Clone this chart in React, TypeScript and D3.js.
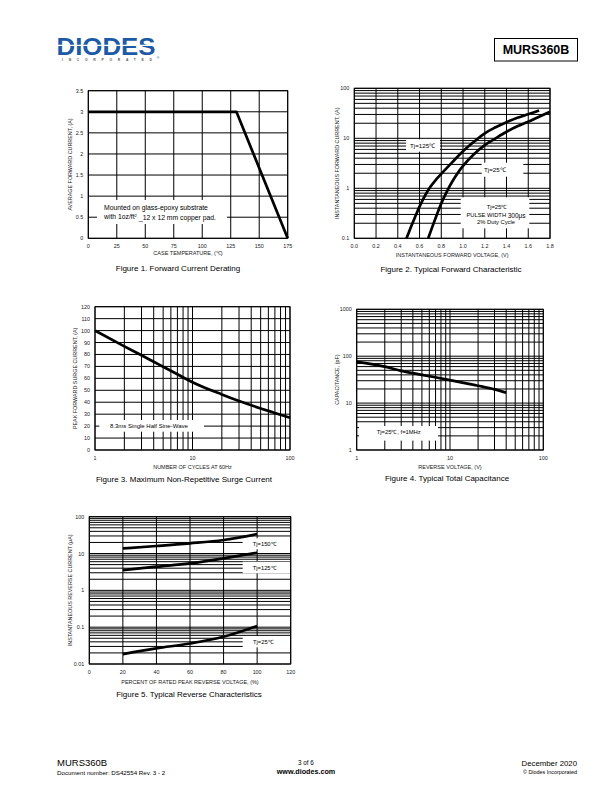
import React from "react";
import * as d3 from "d3";

const FONT = "'Liberation Sans', Arial, Helvetica, sans-serif";

// ---------------- data ----------------
// Figure 1 – Forward current derating
const fig1Temp = [0, 130, 175];
const fig1Current = [3, 3, 0];
const fig1XTicks = [0, 25, 50, 75, 100, 125, 150, 175];
const fig1YTicks = [0, 0.5, 1, 1.5, 2, 2.5, 3, 3.5];

// Figure 2 – Typical forward characteristic
const fig2V125 = [0.48, 0.52, 0.56, 0.6, 0.65, 0.7, 0.75, 0.8, 0.9, 1.0, 1.1, 1.2, 1.3, 1.4, 1.5, 1.6, 1.7];
const fig2I125 = [0.1, 0.166, 0.27, 0.43, 0.71, 1.07, 1.48, 1.95, 3.3, 5.5, 8.5, 12.6, 16.6, 21, 25.7, 30.2, 36];
const fig2V25 = [0.68, 0.72, 0.76, 0.8, 0.85, 0.9, 0.95, 1.0, 1.1, 1.2, 1.3, 1.4, 1.5, 1.6, 1.7, 1.8];
const fig2I25 = [0.1, 0.175, 0.3, 0.5, 0.85, 1.35, 2.0, 2.8, 4.8, 7.3, 10, 13.5, 17.4, 21.4, 27, 34];
const fig2XTicks = [0, 0.2, 0.4, 0.6, 0.8, 1.0, 1.2, 1.4, 1.6, 1.8];
const fig2YTicks = [0.1, 1, 10, 100];

// Figure 3 – Max non-repetitive surge current
const fig3Cycles = [1, 2, 3, 4, 5, 7, 10, 20, 30, 50, 70, 100];
const fig3Current = [100, 86.8, 79.3, 73.9, 69.7, 63.4, 56.8, 46.5, 41, 34.8, 31, 27];
const fig3XTicks = [1, 10, 100];
const fig3YTicks = [0, 10, 20, 30, 40, 50, 60, 70, 80, 90, 100, 110, 120];

// Figure 4 – Typical total capacitance
const fig4Voltage = [1, 2, 3, 5, 10, 20, 30, 40];
const fig4Cap = [76, 60, 48.5, 40, 31, 23.5, 19.6, 16.7];
const fig4XTicks = [1, 10, 100];
const fig4YTicks = [1, 10, 100, 1000];

// Figure 5 – Typical reverse characteristics
const fig5Pct = [20, 40, 60, 80, 100];
const fig5I150 = [13.8, 16, 18.9, 23.3, 33.8];
const fig5I125 = [3.56, 4.4, 5.4, 7.4, 10.5];
const fig5I25 = [0.0186, 0.0266, 0.036, 0.055, 0.108];
const fig5XTicks = [0, 20, 40, 60, 80, 100, 120];
const fig5YTicks = [0.01, 0.1, 1, 10, 100];

// ---------------- helpers ----------------
function logGrid(lo: number, hi: number): number[] {
  const out: number[] = [];
  for (let d = lo; d < hi * 0.999; d *= 10) {
    for (let m = 1; m < 10; m++) out.push(d * m);
  }
  out.push(hi);
  return out;
}

type Series = { xs: number[]; ys: number[]; smooth?: boolean };
type Box = { x: number; y: number; w: number; h: number };
type Txt = { x: number; y: number; text: React.ReactNode; size?: number; anchor?: string };

type PanelProps = {
  xs: any;
  ys: any;
  xGrid: number[];
  yGrid: number[];
  xTicks: number[];
  yTicks: number[];
  xFmt: (v: number) => string;
  yFmt: (v: number) => string;
  series: Series[];
  boxes: Box[];
  texts: Txt[];
  xTitle: string;
  yTitle: string;
  yTitleX: number;
  xTitleY: number;
  caption: string;
  captionY: number;
  captionX: number;
};

function Panel(p: PanelProps) {
  const [x0, x1] = p.xs.range();
  const [yb, yt] = p.ys.range();
  const midX = (x0 + x1) / 2;
  const midY = (yb + yt) / 2;
  return (
    <g>
      {p.xGrid.map((v, i) => (
        <line key={"gx" + i} x1={p.xs(v)} x2={p.xs(v)} y1={yt} y2={yb} stroke="#000" strokeWidth={1} />
      ))}
      {p.yGrid.map((v, i) => (
        <line key={"gy" + i} x1={x0} x2={x1} y1={p.ys(v)} y2={p.ys(v)} stroke="#000" strokeWidth={1} />
      ))}
      <rect x={x0} y={yt} width={x1 - x0} height={yb - yt} fill="none" stroke="#000" strokeWidth={1} />
      {p.boxes.map((b, i) => (
        <rect key={"b" + i} x={b.x} y={b.y} width={b.w} height={b.h} fill="#fff" />
      ))}
      {p.series.map((s, i) => {
        const line = d3
          .line<number>()
          .x((_, j) => p.xs(s.xs[j]))
          .y((d) => p.ys(d))
          .curve(s.smooth ? d3.curveMonotoneX : d3.curveLinear);
        return (
          <path key={"s" + i} d={line(s.ys) || ""} fill="none" stroke="#000" strokeWidth={2.7} strokeLinejoin="round" />
        );
      })}
      {p.texts.map((t, i) => (
        <text key={"t" + i} x={t.x} y={t.y} fontSize={t.size || 5.5} textAnchor={(t.anchor as any) || "start"} dominantBaseline="central" fill="#000">
          {t.text}
        </text>
      ))}
      {p.xTicks.map((v, i) => (
        <text key={"xt" + i} x={p.xs(v)} y={yb + 8} fontSize={5.4} textAnchor="middle" dominantBaseline="central" fill="#222">
          {p.xFmt(v)}
        </text>
      ))}
      {p.yTicks.map((v, i) => (
        <text key={"yt" + i} x={x0 - 5} y={p.ys(v)} fontSize={5.4} textAnchor="end" dominantBaseline="central" fill="#222">
          {p.yFmt(v)}
        </text>
      ))}
      <text x={midX} y={p.xTitleY} fontSize={5.5} textAnchor="middle" dominantBaseline="central" fill="#222">
        {p.xTitle}
      </text>
      <text transform={`translate(${p.yTitleX},${midY}) rotate(-90)`} fontSize={5.4} textAnchor="middle" dominantBaseline="central" fill="#222">
        {p.yTitle}
      </text>
      <text x={p.captionX} y={p.captionY} fontSize={8} textAnchor="middle" dominantBaseline="central" fill="#000">
        {p.caption}
      </text>
    </g>
  );
}

export default function App() {
  // Figure 1
  const x1s = d3.scaleLinear().domain([0, 175]).range([88.3, 287.7]);
  const y1s = d3.scaleLinear().domain([0, 3.5]).range([238.3, 90.7]);
  // Figure 2
  const x2s = d3.scaleLinear().domain([0, 1.8]).range([354.3, 550]);
  const y2s = d3.scaleLog().domain([0.1, 100]).range([238.3, 88.3]);
  // Figure 3
  const x3s = d3.scaleLog().domain([1, 100]).range([95, 290]);
  const y3s = d3.scaleLinear().domain([0, 120]).range([450, 306.7]);
  // Figure 4
  const x4s = d3.scaleLog().domain([1, 100]).range([356.7, 543.3]);
  const y4s = d3.scaleLog().domain([1, 1000]).range([450, 309.3]);
  // Figure 5
  const x5s = d3.scaleLinear().domain([0, 120]).range([89.3, 290.7]);
  const y5s = d3.scaleLog().domain([0.01, 100]).range([664, 516.7]);

  const num = (v: number) => String(v);

  return (
    <div style={{ position: "absolute", left: 0, top: 0, width: 612, height: 792 }}>
      <svg width={612} height={792} viewBox="0 0 612 792" style={{ display: "block", fontFamily: FONT }}>
        <rect x={0} y={0} width={612} height={792} fill="#fff" />

        {/* Header logo */}
        <g>
          <text x={56.5} y={54.5} fontSize={24.5} fontWeight="bold" fill="#1d5aa6" textLength={99} lengthAdjust="spacingAndGlyphs" fontFamily="'Liberation Sans', Arial, sans-serif">
            DIODES
          </text>
          <line x1={56} x2={156} y1={45.3} y2={45.3} stroke="#fff" strokeWidth={1.2} />
          <text x={62} y={61} fontSize={3.4} fill="#555" textLength={90} lengthAdjust="spacing" fontWeight="bold">
            INCORPORATED
          </text>
          <text x={156.5} y={58.5} fontSize={4} fill="#1d5aa6">®</text>
        </g>
        <rect x={494.5} y={38.5} width={83} height={22.5} fill="none" stroke="#000" strokeWidth={1} />
        <text x={536} y={53.5} fontSize={12.5} fontWeight="bold" textAnchor="middle" fill="#000">
          MURS360B
        </text>

        {/* Figure 1 */}
        <Panel
          xs={x1s}
          ys={y1s}
          xGrid={fig1XTicks}
          yGrid={fig1YTicks}
          xTicks={fig1XTicks}
          yTicks={fig1YTicks}
          xFmt={num}
          yFmt={num}
          series={[{ xs: fig1Temp, ys: fig1Current }]}
          boxes={[{ x: 97, y: 200, w: 130, h: 24 }]}
          texts={[
            { x: 104, y: 207.5, text: "Mounted on glass-epoxy substrate", size: 6.8 },
            {
              x: 104,
              y: 216.5,
              size: 6.8,
              text: (
                <>
                  with 1oz/ft
                  <tspan fontSize={4.3} dy={-2}>2</tspan>
                  <tspan dy={2}> _12 x 12 mm copper pad.</tspan>
                </>
              ),
            },
          ]}
          xTitle="CASE TEMPERATURE, (℃)"
          yTitle="AVERAGE FORWARD CURRENT, (A)"
          yTitleX={70}
          xTitleY={253}
          caption="Figure 1.  Forward Current Derating"
          captionX={178}
          captionY={268}
        />

        {/* Figure 2 */}
        <Panel
          xs={x2s}
          ys={y2s}
          xGrid={fig2XTicks}
          yGrid={logGrid(0.1, 100)}
          xTicks={fig2XTicks}
          yTicks={fig2YTicks}
          xFmt={(v) => v.toFixed(1)}
          yFmt={num}
          series={[
            { xs: fig2V125, ys: fig2I125, smooth: true },
            { xs: fig2V25, ys: fig2I25, smooth: true },
          ]}
          boxes={[
            { x: 406, y: 139.3, w: 34, h: 12.4 },
            { x: 481.7, y: 162.7, w: 41.6, h: 14 },
            { x: 460.7, y: 197.3, w: 68.6, h: 31 },
          ]}
          texts={[
            { x: 410, y: 145.5, text: "Tj=125℃", size: 6.2 },
            { x: 484, y: 169.5, text: "Tj=25℃", size: 6.2 },
            { x: 497, y: 206.5, text: "Tj=25℃", size: 5.8, anchor: "middle" },
            {
              x: 496,
              y: 214.5,
              size: 5.8,
              anchor: "middle",
              text: (
                <>
                  PULSE WIDTH <tspan fontSize={6.5}>300μs</tspan>
                </>
              ),
            },
            { x: 496, y: 221.5, text: "2% Duty Cycle", size: 5.8, anchor: "middle" },
          ]}
          xTitle="INSTANTANEOUS FORWARD VOLTAGE, (V)"
          yTitle="INSTANTANEOUS FORWARD CURRENT, (A)"
          yTitleX={337}
          xTitleY={255}
          caption="Figure 2.  Typical Forward Characteristic"
          captionX={451}
          captionY={269}
        />

        {/* Figure 3 */}
        <Panel
          xs={x3s}
          ys={y3s}
          xGrid={logGrid(1, 100)}
          yGrid={fig3YTicks}
          xTicks={fig3XTicks}
          yTicks={fig3YTicks}
          xFmt={num}
          yFmt={num}
          series={[{ xs: fig3Cycles, ys: fig3Current, smooth: true }]}
          boxes={[{ x: 99.3, y: 420, w: 104.7, h: 11.7 }]}
          texts={[{ x: 110, y: 425.8, text: "8.3ms Single Half Sine-Wave", size: 6 }]}
          xTitle="NUMBER OF CYCLES AT 60Hz"
          yTitle="PEAK FORWARD SURGE CURRENT, (A)"
          yTitleX={75}
          xTitleY={467}
          caption="Figure 3.  Maximum Non-Repetitive Surge Current"
          captionX={184}
          captionY={479}
        />

        {/* Figure 4 */}
        <Panel
          xs={x4s}
          ys={y4s}
          xGrid={logGrid(1, 100)}
          yGrid={logGrid(1, 1000)}
          xTicks={fig4XTicks}
          yTicks={fig4YTicks}
          xFmt={num}
          yFmt={num}
          series={[{ xs: fig4Voltage, ys: fig4Cap, smooth: true }]}
          boxes={[{ x: 359, y: 426, w: 79, h: 14.6 }]}
          texts={[{ x: 376.7, y: 431.5, text: "Tj=25℃,  f=1MHz", size: 5.8 }]}
          xTitle="REVERSE VOLTAGE, (V)"
          yTitle="CAPACITANCE, (pF)"
          yTitleX={337}
          xTitleY={467}
          caption="Figure 4.  Typical Total Capacitance"
          captionX={447}
          captionY={478}
        />

        {/* Figure 5 */}
        <Panel
          xs={x5s}
          ys={y5s}
          xGrid={fig5XTicks}
          yGrid={logGrid(0.01, 100)}
          xTicks={fig5XTicks}
          yTicks={fig5YTicks}
          xFmt={num}
          yFmt={num}
          series={[
            { xs: fig5Pct, ys: fig5I150, smooth: true },
            { xs: fig5Pct, ys: fig5I125, smooth: true },
            { xs: fig5Pct, ys: fig5I25, smooth: true },
          ]}
          boxes={[
            { x: 242.7, y: 538.3, w: 47.3, h: 11 },
            { x: 242.7, y: 561.7, w: 47.3, h: 11.6 },
            { x: 242.7, y: 636, w: 47.3, h: 11.3 },
          ]}
          texts={[
            { x: 252.7, y: 544, text: "Tj=150℃", size: 5.8 },
            { x: 252.7, y: 567.5, text: "Tj=125℃", size: 5.8 },
            { x: 253, y: 642, text: "Tj=25℃", size: 5.8 },
          ]}
          xTitle="PERCENT OF RATED PEAK REVERSE VOLTAGE, (%)"
          yTitle="INSTANTANEOUS REVERSE CURRENT (μA)"
          yTitleX={70}
          xTitleY={682}
          caption="Figure 5.  Typical Reverse Characteristics"
          captionX={189}
          captionY={694}
        />

        {/* Footer */}
        <text x={57} y={766} fontSize={9.5} fill="#000">MURS360B</text>
        <text x={57} y={774.5} fontSize={6.2} fill="#000">Document number: DS42554 Rev. 3 - 2</text>
        <text x={306} y={765} fontSize={6.3} textAnchor="middle" fill="#000">3 of 6</text>
        <text x={306} y={774} fontSize={7.2} fontWeight="bold" textAnchor="middle" fill="#000">www.diodes.com</text>
        <text x={577} y={766} fontSize={7.8} textAnchor="end" fill="#000">December 2020</text>
        <text x={577} y={773.5} fontSize={5.4} textAnchor="end" fill="#000">© Diodes Incorporated</text>
      </svg>
    </div>
  );
}
